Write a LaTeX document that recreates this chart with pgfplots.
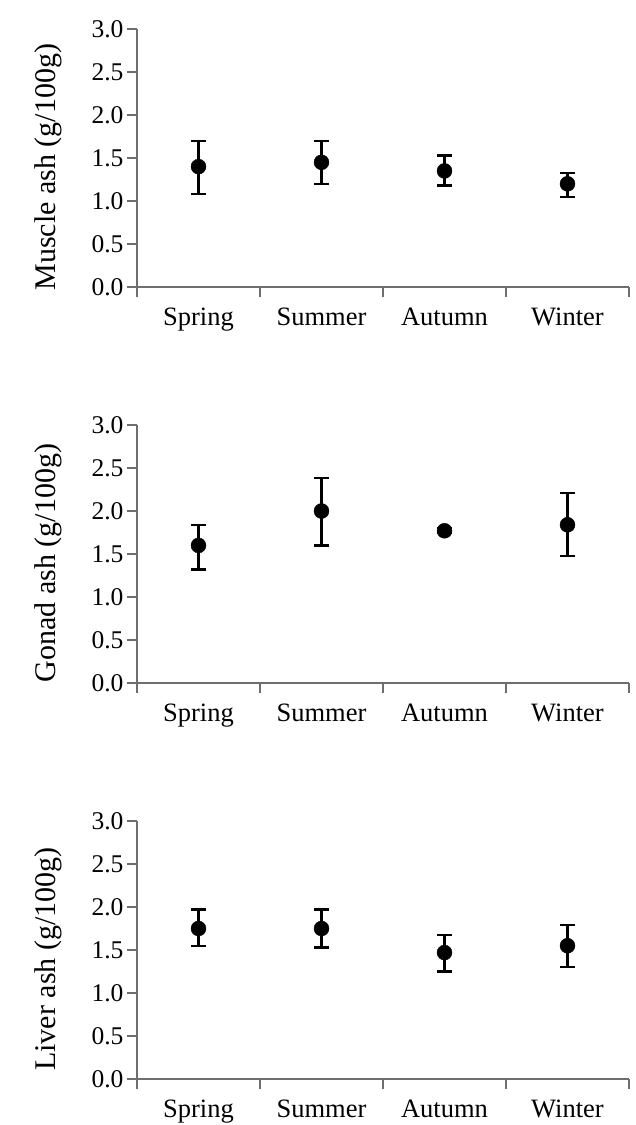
\documentclass[border=0pt]{standalone}
\usepackage{fontspec}
\setmainfont{Liberation Serif}
\usepackage{pgfplots}
\pgfplotsset{compat=1.18}
\usepackage{pgfplotstable}

\pgfplotstableread{
x y ep em
1 1.40 0.30 0.32
2 1.45 0.25 0.25
3 1.35 0.18 0.17
4 1.20 0.13 0.15
}\muscle
\pgfplotstableread{
x y ep em
1 1.60 0.24 0.28
2 2.00 0.38 0.40
3 1.77 0.03 0.03
4 1.84 0.37 0.36
}\gonad
\pgfplotstableread{
x y ep em
1 1.75 0.22 0.20
2 1.75 0.22 0.22
3 1.47 0.20 0.22
4 1.55 0.24 0.25
}\liver

\definecolor{axgray}{RGB}{110,110,110}

\pgfplotsset{
  panel/.style={
    width=492pt, height=258pt, scale only axis,
    axis lines*=left, anchor=south west,
    xmin=0.5, xmax=4.5, ymin=0, ymax=3,
    ytick={0,0.5,1,1.5,2,2.5,3},
    /pgf/number format/assume math mode=true,
    yticklabel={\pgfmathprintnumber[fixed,fixed zerofill,precision=1]{\tick}},
    yticklabel style={font=\fontsize{25.5}{30}\selectfont, text=black},
    xtick={0.5,1.5,2.5,3.5,4.5}, xticklabels={},
    extra x ticks={1,2,3,4},
    extra x tick labels={Spring,Summer,Autumn,Winter},
    extra x tick style={major tick length=0pt,
      xticklabel style={font=\fontsize{26.5}{31}\selectfont, text=black, yshift=-17pt}},
    tick align=outside, major tick length=10pt,
    axis line style={draw=axgray, line width=1.2pt},
    every tick/.style={draw=axgray, line width=1.2pt},
    ylabel style={font=\fontsize{30}{34}\selectfont, at={(axis description cs:-0.146,0.465)}, anchor=south, rotate=0},
  },
  pts/.style={only marks, mark=*, mark size=7.5pt, black,
    error bars/.cd, y dir=both, y explicit,
    error bar style={line width=2.2pt, black},
    error mark options={rotate=90, mark size=7.5pt, line width=2.2pt, black}},
}

\begin{document}
\begin{tikzpicture}
\path[use as bounding box] (0pt,0pt) rectangle (636pt,-1125pt);

\begin{axis}[panel, at={(137pt,-287pt)}, ylabel={Muscle ash (g/100g)}]
\addplot[pts] table[x=x, y=y, y error plus=ep, y error minus=em]{\muscle};
\end{axis}

\begin{axis}[panel, at={(137pt,-683pt)}, ylabel={Gonad ash (g/100g)}]
\addplot[pts] table[x=x, y=y, y error plus=ep, y error minus=em]{\gonad};
\end{axis}

\begin{axis}[panel, at={(137pt,-1079pt)}, ylabel={Liver ash (g/100g)}]
\addplot[pts] table[x=x, y=y, y error plus=ep, y error minus=em]{\liver};
\end{axis}
\end{tikzpicture}
\end{document}
